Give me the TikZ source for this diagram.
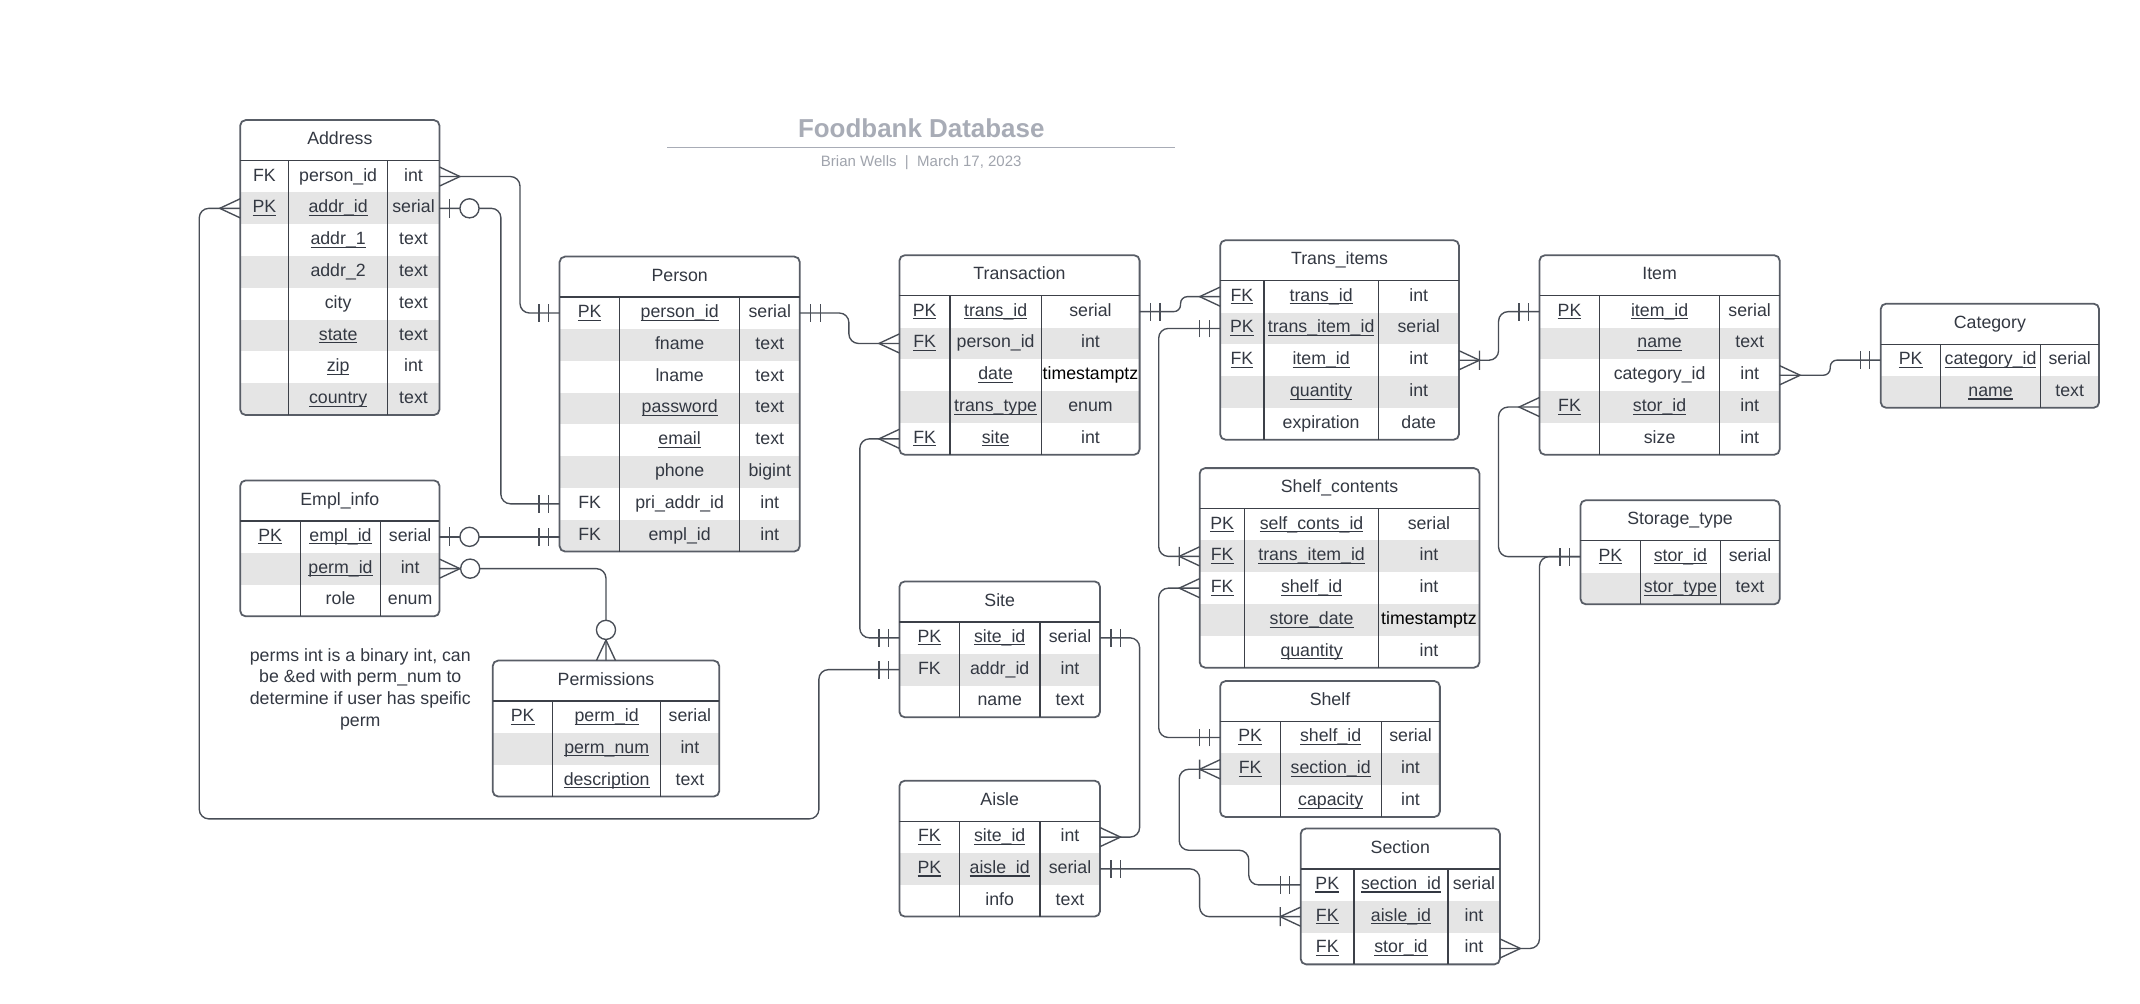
\documentclass[tikz,border=0pt]{standalone}
\usepackage{fontspec}
\setmainfont{Liberation Sans}
\definecolor{ink}{RGB}{51,56,66}
\definecolor{frame}{RGB}{88,93,102}
\definecolor{gridc}{RGB}{60,64,72}
\definecolor{rowfill}{RGB}{229,229,229}
\definecolor{wirec}{RGB}{72,77,86}
\definecolor{titlegray}{RGB}{168,172,182}
\definecolor{subgray}{RGB}{160,164,173}
\newsavebox\uubox
\newcommand\uu[1]{\sbox\uubox{#1}\rlap{\rule[-2.3pt]{\wd\uubox}{0.8pt}}\usebox\uubox}
\newcommand\ERhh{29.7}
\newcommand\ERrh{23.3}
\tikzset{
  tablebox/.style={draw=frame, line width=1.3pt, rounded corners=4pt, inner sep=0pt, outer sep=0pt},
  gridline/.style={draw=gridc, line width=1pt},
  celltext/.style={font=\fontsize{13}{15}\selectfont, text=ink, inner sep=1pt, text height=9.6pt, text depth=3pt},
  wire/.style={draw=wirec, line width=1pt, rounded corners=7pt},
  symb/.style={draw=wirec, line width=1pt},
  pics/many/.style={code={\draw[symb] (0,7)--(15,0)--(0,-7);}},
  pics/oneone/.style={code={\draw[symb] (8,-6.5)--(8,6.5) (15,-6.5)--(15,6.5);}},
  pics/zeroone/.style={code={\draw[symb] (7.5,-7)--(7.5,7); \draw[symb, fill=white] (22,0) circle[radius=7pt];}},
  pics/zeromany/.style={code={\draw[symb] (0,7)--(15,0)--(0,-7); \draw[symb, fill=white] (22.5,0) circle[radius=7pt];}},
  pics/onemany/.style={code={\draw[symb] (0,7)--(15,0)--(0,-7) (15,-7)--(15,7);}},
}
% #1 name, #2 x, #3 y, #4-#6 column widths, #7 rows, #8 title, #9 rows list
\newcommand\erd[9]{%
  \pgfmathsetmacro\ERw{#4+#5+#6}%
  \pgfmathsetmacro\ERh{\ERhh+#7*\ERrh}%
  \begin{scope}
    \clip[rounded corners=4pt] (#2,#3) rectangle ++(\ERw,\ERh);
    \foreach \ERi in {1,...,#7}{\ifodd\ERi\relax\else
      \fill[rowfill] (#2,{#3+\ERhh+(\ERi-1)*\ERrh}) rectangle ++(\ERw,\ERrh);\fi}
  \end{scope}
  \node[tablebox, minimum width=\ERw pt, minimum height=\ERh pt, anchor=north west] (#1) at (#2,#3) {};
  \draw[gridline] (#2,{#3+\ERhh}) -- ++(\ERw,0);
  \draw[gridline] ({#2+#4},{#3+\ERhh}) -- ({#2+#4},{#3+\ERh});
  \draw[gridline] ({#2+#4+#5},{#3+\ERhh}) -- ({#2+#4+#5},{#3+\ERh});
  \node[celltext] (#1-title) at ({#2+\ERw/2},{#3+\ERhh/2}) {#8};
  \foreach \ERa/\ERb/\ERc [count=\ERi] in {#9}{%
    \pgfmathsetmacro\ERy{#3+\ERhh+(\ERi-0.5)*\ERrh}%
    \node[celltext] (#1-\ERi-k) at ({#2+#4/2},\ERy) {\ERa};
    \node[celltext] (#1-\ERi-n) at ({#2+#4+#5/2},\ERy) {\ERb};
    \node[celltext] (#1-\ERi-t) at ({#2+#4+#5+#6/2},\ERy) {\ERc};
    \coordinate (#1-\ERi-w) at (#2,\ERy);
    \coordinate (#1-\ERi-e) at ({#2+\ERw},\ERy);
  }%
}
\begin{document}
\begin{tikzpicture}[x=1pt,y=-1pt]
\fill[white] (0,0) rectangle (1568,735.6);
\useasboundingbox (0,0) rectangle (1568,735.6);

% title
\node[font=\bfseries\fontsize{19}{22}\selectfont, text=titlegray] (title) at (675,94) {Foodbank Database};
\draw[titlegray, line width=1.3pt] (489,108) -- (861,108);
\node[font=\fontsize{11}{13}\selectfont, text=subgray] (subtitle) at (675,119) {Brian Wells\ \ |\ \ March 17, 2023};

% tables
\erd{address}{176}{88}{35.5}{72.5}{38}{8}{Address}{%
{FK}/{person\_id}/{int},%
{\uu{PK}}/{\uu{addr\_id}}/{serial},%
{}/{\uu{addr\_1}}/{text},%
{}/{addr\_2}/{text},%
{}/{city}/{text},%
{}/{\uu{state}}/{text},%
{}/{\uu{zip}}/{int},%
{}/{\uu{country}}/{text}}

\erd{person}{410}{188}{44}{88}{44}{8}{Person}{%
{\uu{PK}}/{\uu{person\_id}}/{serial},%
{}/{fname}/{text},%
{}/{lname}/{text},%
{}/{\uu{password}}/{text},%
{}/{\uu{email}}/{text},%
{}/{phone}/{bigint},%
{FK}/{pri\_addr\_id}/{int},%
{FK}/{empl\_id}/{int}}

\erd{trans}{659}{187}{37}{67}{72}{5}{Transaction}{%
{\uu{PK}}/{\uu{trans\_id}}/{serial},%
{\uu{FK}}/{person\_id}/{int},%
{}/{\uu{date}}/{\textcolor{black}{timestamptz}},%
{}/{\uu{trans\_type}}/{enum},%
{\uu{FK}}/{\uu{site}}/{int}}

\erd{titems}{894}{176}{32}{84}{59}{5}{Trans\_items}{%
{\uu{FK}}/{\uu{trans\_id}}/{int},%
{\uu{PK}}/{\uu{trans\_item\_id}}/{serial},%
{\uu{FK}}/{\uu{item\_id}}/{int},%
{}/{\uu{quantity}}/{int},%
{}/{expiration}/{date}}

\erd{item}{1128}{187}{44}{88}{44}{5}{Item}{%
{\uu{PK}}/{\uu{item\_id}}/{serial},%
{}/{\uu{name}}/{text},%
{}/{category\_id}/{int},%
{\uu{FK}}/{\uu{stor\_id}}/{int},%
{}/{size}/{int}}

\erd{category}{1378}{222.5}{44}{73}{43}{2}{Category}{%
{\uu{PK}}/{\uu{category\_id}}/{serial},%
{}/{\uu{name}}/{text}}

\erd{stortype}{1158}{366.5}{44}{58.5}{43.5}{2}{Storage\_type}{%
{\uu{PK}}/{\uu{stor\_id}}/{serial},%
{}/{\uu{stor\_type}}/{text}}

\erd{shelfc}{879}{343}{33}{98}{74}{5}{Shelf\_contents}{%
{\uu{PK}}/{\uu{self\_conts\_id}}/{serial},%
{\uu{FK}}/{\uu{trans\_item\_id}}/{int},%
{\uu{FK}}/{\uu{shelf\_id}}/{int},%
{}/{\uu{store\_date}}/{\textcolor{black}{timestamptz}},%
{}/{\uu{quantity}}/{int}}

\erd{empl}{176}{352}{44}{59}{43}{3}{Empl\_info}{%
{\uu{PK}}/{\uu{empl\_id}}/{serial},%
{}/{\uu{perm\_id}}/{int},%
{}/{role}/{enum}}

\erd{perm}{361}{484}{44}{79}{43}{3}{Permissions}{%
{\uu{PK}}/{\uu{perm\_id}}/{serial},%
{}/{\uu{perm\_num}}/{int},%
{}/{\uu{description}}/{text}}

\erd{site}{659}{426}{44}{59}{44}{3}{Site}{%
{\uu{PK}}/{\uu{site\_id}}/{serial},%
{FK}/{addr\_id}/{int},%
{}/{name}/{text}}

\erd{aisle}{659}{572}{44}{59}{44}{3}{Aisle}{%
{\uu{FK}}/{\uu{site\_id}}/{int},%
{\uu{PK}}/{\uu{aisle\_id}}/{serial},%
{}/{info}/{text}}

\erd{shelf}{894}{499}{44}{74}{43}{3}{Shelf}{%
{\uu{PK}}/{\uu{shelf\_id}}/{serial},%
{\uu{FK}}/{\uu{section\_id}}/{int},%
{}/{\uu{capacity}}/{int}}

\erd{section}{953}{607}{39}{69}{38}{3}{Section}{%
{\uu{PK}}/{\uu{section\_id}}/{serial},%
{\uu{FK}}/{\uu{aisle\_id}}/{int},%
{\uu{FK}}/{\uu{stor\_id}}/{int}}

% note
\node[font=\fontsize{13}{16}\selectfont, text=ink, align=center] (note) at (264,505)
  {perms int is a binary int, can\\be \&ed with perm\_num to\\determine if user has speific\\perm};

% connectors
\draw[wire] (address-1-e) -- ++(59,0) |- (person-1-w);
\draw[wire] (address-2-e) -- ++(45,0) |- (person-7-w);
\draw[wire] (address-2-w) -- ++(-30,0) |- (600,600) |- (site-2-w);
\draw[wire] (empl-1-e) -- (empl-1-e -| person-8-w);
\draw[wire] (empl-2-e) -| (perm.north);
\draw[wire] (person-1-e) -- ++(36,0) |- (trans-2-w);
\draw[wire] (trans-5-w) -- ++(-29,0) |- (site-1-w);
\draw[wire, rounded corners=5pt] (trans-1-e) -- ++(30,0) |- (titems-1-w);
\draw[wire] (titems-2-w) -- ++(-45,0) |- (shelfc-2-w);
\draw[wire] (site-1-e) -- ++(29,0) |- (aisle-1-e);
\draw[wire] (aisle-2-e) -- ++(73,0) |- (section-2-w);
\draw[wire] (shelf-1-w) -- ++(-45,0) |- (shelfc-3-w);
\draw[wire] (shelf-2-w) -- ++(-30,0) |- (915,623) |- (section-1-w);
\draw[wire] (titems-3-e) -- ++(29,0) |- (item-1-w);
\draw[wire, rounded corners=5pt] (item-3-e) -- ++(37,0) |- (category-1-w);
\draw[wire] (item-4-w) -- ++(-30,0) |- (stortype-1-w);
\draw[wire] (section-3-e) -- ++(29,0) |- (stortype-1-w);

% end symbols
\pic at (address-1-e) {many};
\pic[rotate=180] at (person-1-w) {oneone};
\pic at (address-2-e) {zeroone};
\pic[rotate=180] at (person-7-w) {oneone};
\pic[rotate=180] at (address-2-w) {many};
\pic[rotate=180] at (site-2-w) {oneone};
\pic at (empl-1-e) {zeroone};
\pic[rotate=180] at (empl-1-e -| person-8-w) {oneone};
\pic at (empl-2-e) {zeromany};
\pic[rotate=90] at (perm.north) {zeromany};
\pic at (person-1-e) {oneone};
\pic[rotate=180] at (trans-2-w) {many};
\pic[rotate=180] at (trans-5-w) {many};
\pic[rotate=180] at (site-1-w) {oneone};
\pic at (trans-1-e) {oneone};
\pic[rotate=180] at (titems-1-w) {many};
\pic[rotate=180] at (titems-2-w) {oneone};
\pic[rotate=180] at (shelfc-2-w) {onemany};
\pic at (site-1-e) {oneone};
\pic at (aisle-1-e) {many};
\pic at (aisle-2-e) {oneone};
\pic[rotate=180] at (section-2-w) {onemany};
\pic[rotate=180] at (shelf-1-w) {oneone};
\pic[rotate=180] at (shelfc-3-w) {many};
\pic[rotate=180] at (shelf-2-w) {onemany};
\pic[rotate=180] at (section-1-w) {oneone};
\pic at (titems-3-e) {onemany};
\pic[rotate=180] at (item-1-w) {oneone};
\pic at (item-3-e) {many};
\pic[rotate=180] at (category-1-w) {oneone};
\pic[rotate=180] at (item-4-w) {many};
\pic[rotate=180] at (stortype-1-w) {oneone};
\pic at (section-3-e) {many};
\end{tikzpicture}
\end{document}
